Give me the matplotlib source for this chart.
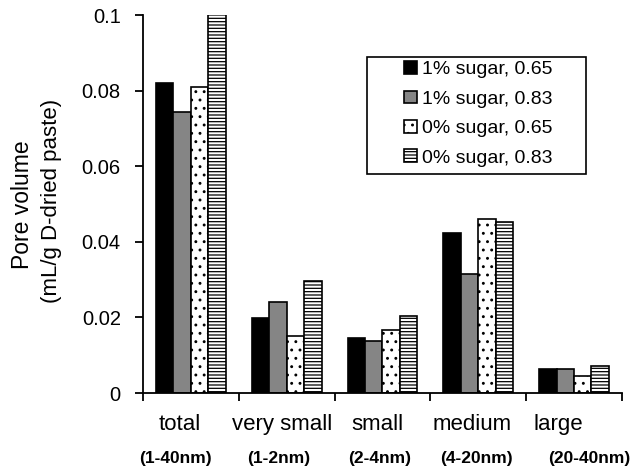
import numpy as np
import matplotlib
matplotlib.use("Agg")
import matplotlib.pyplot as plt
from matplotlib.patches import Rectangle
from matplotlib.transforms import blended_transform_factory, offset_copy

plt.rcParams["font.family"] = ["Liberation Sans", "DejaVu Sans"]
plt.rcParams["hatch.linewidth"] = 0.9

# data
categories = ["total", "very small", "small", "medium", "large"]
size_ranges = ["(1-40nm)", "(1-2nm)", "(2-4nm)", "(4-20nm)", "(20-40nm)"]
series_names = ["1% sugar, 0.65", "1% sugar, 0.83", "0% sugar, 0.65", "0% sugar, 0.83"]
sugar1_065 = [0.0820, 0.0198, 0.0146, 0.0423, 0.0063]
sugar1_083 = [0.0743, 0.0241, 0.0138, 0.0315, 0.0063]
sugar0_065 = [0.0810, 0.0151, 0.0167, 0.0460, 0.0045]
sugar0_083 = [0.1005, 0.0296, 0.0204, 0.0453, 0.0071]
y_ticks = [0, 0.02, 0.04, 0.06, 0.08, 0.1]
y_ticklabels = ["0", "0.02", "0.04", "0.06", "0.08", "0.1"]

series = [sugar1_065, sugar1_083, sugar0_065, sugar0_083]
styles = [
    dict(color="black", hatch=None),
    dict(color="#858585", hatch=None),
    dict(color="white", hatch=".."),
    dict(color="white", hatch="-----"),
]
# horizontal nudges (pixels) of the category labels, as in the original
cat_shift = [-11, -5, -5, -6, -16]
rng_shift = [-15, -8, -3, -2, 15]

fig = plt.figure(figsize=(6.42, 4.69), dpi=100)
ax = fig.add_axes([0.2227, 0.162, 0.746, 0.806])

x = np.arange(len(categories))
width = 0.182
for i, (vals, st) in enumerate(zip(series, styles)):
    ax.bar(x + (i - 1.5) * width, vals, width, color=st["color"],
           hatch=st["hatch"], edgecolor="black", linewidth=1.2,
           label=series_names[i])

ax.set_xlim(-0.5, len(categories) - 0.5)
ax.set_ylim(0, 0.1)
ax.set_yticks(y_ticks)
ax.set_yticklabels(y_ticklabels, fontsize=14.5)
ax.set_xticks(np.arange(len(categories) + 1) - 0.5)
ax.set_xticklabels([])
ax.tick_params(axis="both", direction="out", length=6, width=1.3)
ax.tick_params(axis="y", pad=10)

for side in ["top", "right"]:
    ax.spines[side].set_visible(False)
for side in ["left", "bottom"]:
    ax.spines[side].set_linewidth(1.3)

trans = blended_transform_factory(ax.transData, fig.transFigure)
for i, (cat, rng) in enumerate(zip(categories, size_ranges)):
    t1 = offset_copy(trans, fig=fig, x=cat_shift[i], y=0, units="dots")
    t2 = offset_copy(trans, fig=fig, x=rng_shift[i], y=0, units="dots")
    ax.text(i, 1 - 424 / 469, cat, transform=t1, ha="center",
            va="center", fontsize=16)
    ax.text(i, 1 - 458 / 469, rng, transform=t2, ha="center",
            va="center", fontsize=12.5, fontweight="bold")

fig.text(23 / 642, 1 - 205 / 469, "Pore volume", rotation=90,
         ha="center", va="center", fontsize=16.5)
fig.text(52 / 642, 1 - 201 / 469, "(mL/g D-dried paste)", rotation=90,
         ha="center", va="center", fontsize=16)

# legend box is wider than the entries, so draw the frame separately
ax.add_patch(Rectangle((0.4676, 0.5794), 0.4572, 0.3095, transform=ax.transAxes,
                       facecolor="white", edgecolor="black", linewidth=1.2,
                       zorder=4))
leg = ax.legend(loc="upper left", bbox_to_anchor=(0.545, 0.878),
                fontsize=14, frameon=False,
                handlelength=0.65, handleheight=0.65, handletextpad=0.3,
                labelspacing=0.62, borderpad=0, borderaxespad=0)
leg.set_zorder(5)

fig.savefig("out.png", dpi=100)
